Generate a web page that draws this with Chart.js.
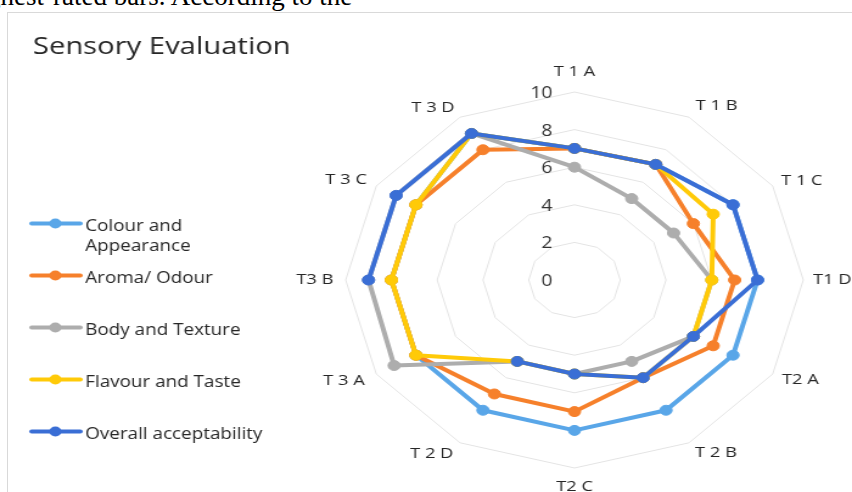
<!DOCTYPE html>
<html>
<head>
<meta charset="utf-8">
<script src="https://cdn.jsdelivr.net/npm/chart.js@4.4.1/dist/chart.umd.min.js"></script>
<style>
  html, body { margin: 0; padding: 0; background: #fff; overflow: hidden; width: 852px; height: 492px; }
  #doc { position: absolute; left: -34px; top: -17px; font: 27px/27px "Liberation Serif", serif; color: #000; white-space: nowrap; }
  #frame { position: absolute; left: 7px; top: 12px; width: 900px; height: 500px; border-left: 1px solid #d9d9d9; border-top: 1px solid #d9d9d9; }
  /* the reference picture is stretched sideways, so the canvas is too */
  #wrap { position: absolute; left: 0; top: 0; width: 760px; height: 520px; transform: scaleX(1.21714); transform-origin: 0 0; }
</style>
</head>
<body>
<div id="doc">highest-rated bars. According to the</div>
<div id="frame"></div>
<div id="wrap"><canvas id="radar" width="760" height="520"></canvas></div>
<script>
const chartTitle = 'Sensory Evaluation';
const categories = ['T 1 A', 'T 1 B', 'T 1 C', 'T1 D', 'T2 A', 'T 2 B', 'T2 C', 'T 2 D', 'T 3 A', 'T3 B', 'T 3 C', 'T 3 D'];
const tickValues = [0, 2, 4, 6, 8, 10];

const colourAppearance = [7, 7.1, 8, 8, 8, 8, 8, 8, 8, 8, 8, 9];
const aromaOdour       = [7, 7.1, 6, 7, 7, 6, 7, 7, 8, 8, 8, 8];
const bodyTexture      = [6, 5, 5, 6, 6, 5, 5, 5, 9.1, 9, 9, 9];
const flavourTaste     = [7, 7.1, 7, 6, 6, 6, 5, 5, 8, 8, 8, 9];
const overallAccept    = [7, 7.1, 8, 8, 6, 6, 5, 5, null, 9, 9, 9];

const seriesNames  = ['Colour and Appearance', 'Aroma/ Odour', 'Body and Texture', 'Flavour and Taste', 'Overall acceptability'];
const seriesColors = ['#59a6e8', '#f6802b', '#adadad', '#ffca08', '#3a6ed5'];
const seriesData   = [colourAppearance, aromaOdour, bodyTexture, flavourTaste, overallAccept];

// gap between ring and each category label
const labelGap = [19, 11, 8, 8, 9, 10, 17, 11, 11, 10, 9, 9];

Chart.defaults.font.family = '"Open Sans", sans-serif';

function wrapText(ctx, text, maxW) {
  const words = text.split(' ');
  const lines = [];
  let cur = '';
  words.forEach(w => {
    const test = cur ? cur + ' ' + w : w;
    if (cur && ctx.measureText(test).width > maxW) {
      lines.push(cur);
      cur = w;
    } else {
      cur = test;
    }
  });
  lines.push(cur);
  return lines;
}

// title, legend and axis numbers
const decor = {
  id: 'decor',
  beforeDatasetsDraw(chart) {
    const ctx = chart.ctx;
    const r = chart.scales.r;
    ctx.save();
    ctx.font = '16px "Open Sans"';
    ctx.fillStyle = '#333333';
    ctx.textAlign = 'right';
    ctx.textBaseline = 'middle';
    tickValues.forEach(v => {
      const p = r.getPointPositionForValue(0, v);
      ctx.fillText(String(v), r.xCenter - 18, p.y + 1.5);
    });
    ctx.restore();
  },
  afterDraw(chart) {
    const ctx = chart.ctx;
    ctx.save();
    ctx.textAlign = 'left';
    ctx.textBaseline = 'alphabetic';
    ctx.fillStyle = '#262626';
    ctx.font = '24px "Open Sans"';
    ctx.fillText(chartTitle, 27, 53.5);

    ctx.font = '15.5px "Open Sans"';
    let y = 223.5;
    chart.data.datasets.forEach(ds => {
      ctx.strokeStyle = ds.borderColor;
      ctx.lineWidth = 4;
      ctx.lineCap = 'round';
      ctx.beginPath();
      ctx.moveTo(26, y);
      ctx.lineTo(66, y);
      ctx.stroke();
      ctx.fillStyle = ds.borderColor;
      ctx.beginPath();
      ctx.arc(45.5, y, 5, 0, Math.PI * 2);
      ctx.fill();
      ctx.fillStyle = '#262626';
      wrapText(ctx, ds.label, 152).forEach((ln, k) => {
        ctx.fillText(ln, 70, y + 7 + k * 20.5);
      });
      y += 52;
    });
    ctx.restore();
  }
};

new Chart(document.getElementById('radar'), {
  type: 'radar',
  data: {
    labels: categories,
    datasets: seriesData.map((d, i) => ({
      label: seriesNames[i],
      data: d,
      borderColor: seriesColors[i],
      backgroundColor: seriesColors[i],
      pointBackgroundColor: seriesColors[i],
      pointBorderColor: seriesColors[i],
      borderWidth: 4,
      borderJoinStyle: 'round',
      pointRadius: 5,
      pointBorderWidth: 1,
      fill: false,
      spanGaps: false,
      order: seriesData.length - i
    }))
  },
  options: {
    responsive: false,
    animation: false,
    layout: { padding: { left: 200, top: 69, right: 16, bottom: 31 } },
    plugins: {
      legend: { display: false },
      tooltip: { enabled: false }
    },
    scales: {
      r: {
        min: 0,
        max: 10,
        ticks: { stepSize: 2, display: false },
        angleLines: { display: false },
        grid: { color: '#e4e4e4', lineWidth: 1 },
        pointLabels: {
          padding: ctx => labelGap[ctx.index],
          color: '#262626',
          font: { size: 15, lineHeight: 0.2 }
        }
      }
    }
  },
  plugins: [decor]
});
</script>
</body>
</html>
